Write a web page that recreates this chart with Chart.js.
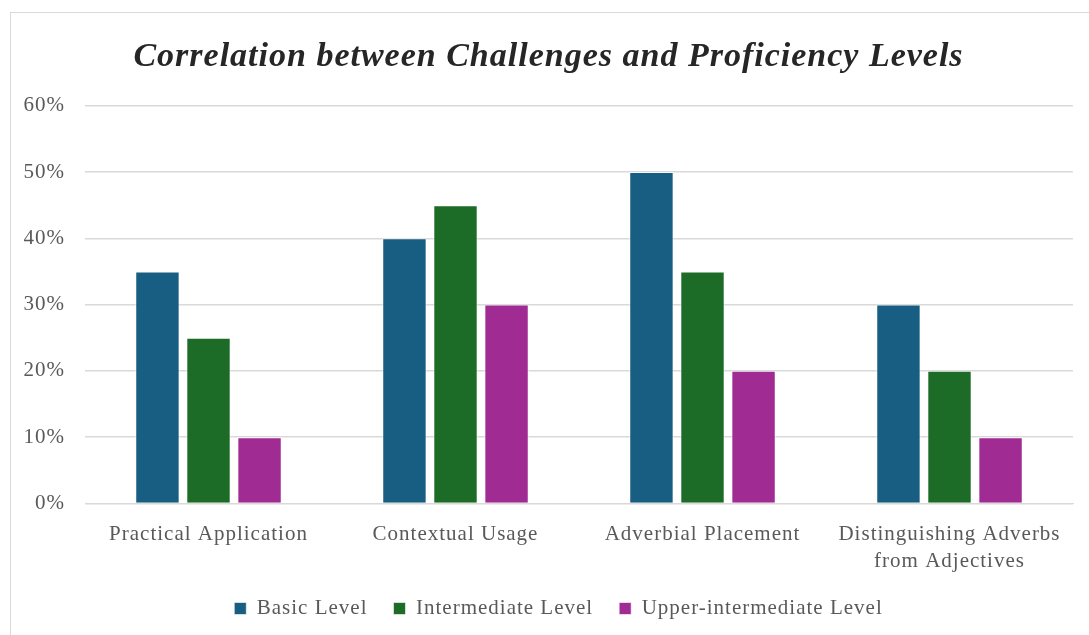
<!DOCTYPE html>
<html>
<head>
<meta charset="utf-8">
<script src="https://cdn.jsdelivr.net/npm/chart.js@4"></script>
<style>
  html, body { margin: 0; padding: 0; background: #fff; }
  #frame {
    position: absolute; left: 10px; top: 12px;
    width: 1085px; height: 630px;
    border: 1px solid #d9d9d9; box-sizing: border-box;
  }
  #wrap { position: absolute; left: 0; top: 0; width: 1078px; height: 622px; }
</style>
</head>
<body>
<div id="frame"><div id="wrap"><canvas id="chart"></canvas></div></div>
<script>
// Chart data
var categories = [
  "Practical Application",
  "Contextual Usage",
  "Adverbial Placement",
  ["Distinguishing Adverbs", "from Adjectives"]
];
var basicLevel = [35, 40, 50, 30];
var intermediateLevel = [25, 45, 35, 20];
var upperIntermediateLevel = [10, 30, 20, 10];
var yTicks = [0, 10, 20, 30, 40, 50, 60];

var serif = "'Liberation Serif', 'Times New Roman', serif";
var textColor = "#595959";

function series(label, values, color) {
  return {
    label: label,
    data: values,
    backgroundColor: color,
    borderColor: "rgba(255,255,255,0.6)",
    borderWidth: 1,
    barPercentage: 0.87,
    categoryPercentage: 0.62
  };
}

// Office-style text is a bit looser than canvas default
var spacing = {
  id: "spacing",
  beforeUpdate: function (chart) { chart.ctx.letterSpacing = "1px"; },
  beforeDraw: function (chart) { chart.ctx.letterSpacing = "1px"; },
  // nudge the legend a little to the right, as in the original
  afterLayout: function (chart) {
    chart.legend.left += 10;
    chart.legend.right += 10;
  }
};

new Chart(document.getElementById("chart"), {
  type: "bar",
  data: {
    labels: categories,
    datasets: [
      series("Basic Level", basicLevel, "#175e82"),
      series("Intermediate Level", intermediateLevel, "#1c6b26"),
      series("Upper-intermediate Level", upperIntermediateLevel, "#a02b93")
    ]
  },
  plugins: [spacing],
  options: {
    responsive: true,
    maintainAspectRatio: false,
    animation: false,
    layout: { padding: { left: 13, right: 16, top: 6, bottom: 6 } },
    plugins: {
      title: {
        display: true,
        text: "Correlation between Challenges and Proficiency Levels",
        color: "#262626",
        font: { family: serif, size: 34, style: "italic", weight: "bold" },
        padding: { top: 18, bottom: 28 }
      },
      legend: {
        position: "bottom",
        labels: {
          color: textColor,
          font: { family: serif, size: 21 },
          boxWidth: 12,
          boxHeight: 12,
          padding: 26
        }
      },
      tooltip: { enabled: false }
    },
    scales: {
      x: {
        grid: { display: false, drawTicks: false },
        border: { color: "#d9d9d9", width: 1 },
        ticks: {
          color: textColor,
          font: { family: serif, size: 21, lineHeight: 1.3 },
          padding: 17,
          maxRotation: 0,
          autoSkip: false
        },
        afterFit: function (axis) { axis.height -= 20; }
      },
      y: {
        min: 0,
        max: 60,
        afterBuildTicks: function (axis) {
          axis.ticks = yTicks.map(function (v) { return { value: v }; });
        },
        afterFit: function (axis) { axis.width = 61; },
        grid: { color: "#d9d9d9", lineWidth: 1.5, drawTicks: false },
        border: { display: false },
        ticks: {
          color: textColor,
          font: { family: serif, size: 21 },
          padding: 20,
          callback: function (v) { return v + "%"; }
        }
      }
    }
  }
});
</script>
</body>
</html>
